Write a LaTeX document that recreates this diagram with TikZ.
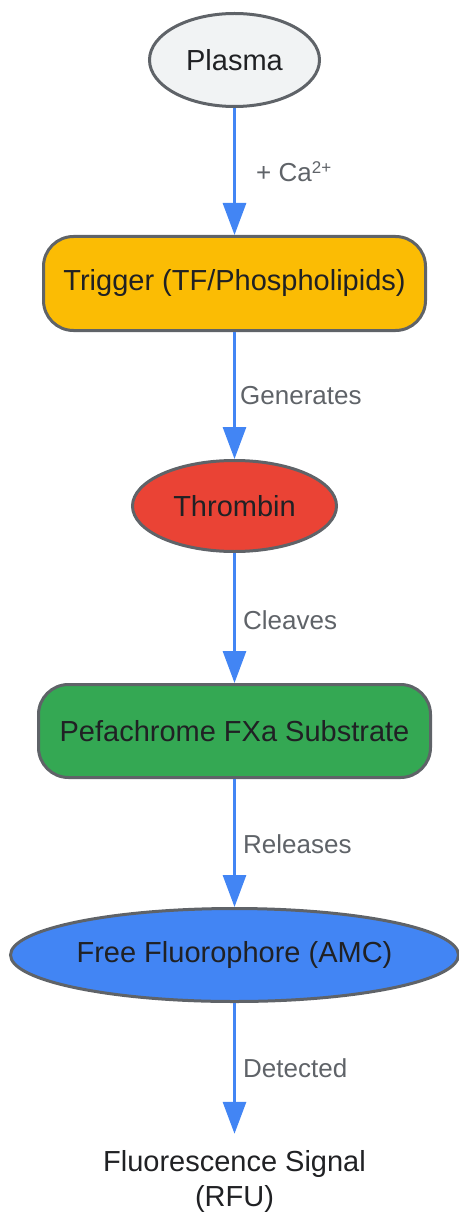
\documentclass[tikz,border=0pt]{standalone}
\usepackage{fontspec}
\setmainfont{Liberation Sans}
\usetikzlibrary{arrows.meta,shapes.geometric}
\definecolor{bordergray}{HTML}{5F6368}
\definecolor{txtdark}{HTML}{202124}
\definecolor{lblgray}{HTML}{5F6368}
\definecolor{plasmafill}{HTML}{F1F3F4}
\definecolor{gyellow}{HTML}{FBBC04}
\definecolor{gred}{HTML}{EA4335}
\definecolor{ggreen}{HTML}{34A853}
\definecolor{gblue}{HTML}{4285F4}
\tikzset{
  base/.style={draw=bordergray, line width=3pt, text=txtdark, inner sep=0pt,
    font=\fontsize{29}{35}\selectfont},
  oval/.style={base, ellipse},
  rbox/.style={base, rectangle, rounded corners=30pt},
  conn/.style={draw=gblue, line width=3pt, -{Triangle[width=23pt,length=32pt]}},
  lbl/.style={text=lblgray, anchor=west, inner sep=0pt, font=\fontsize{26}{31}\selectfont}
}
\begin{document}
\begin{tikzpicture}[x=1pt,y=-1pt]
\useasboundingbox (0,0) rectangle (458,1214);
\node[oval, fill=plasmafill, minimum width=170pt, minimum height=93pt] (plasma) at (234.5,60) {Plasma};
\node[rbox, fill=gyellow, minimum width=382pt, minimum height=94pt] (trigger) at (234.5,283.5) {Trigger (TF/Phospholipids)};
\node[oval, fill=gred, minimum width=204pt, minimum height=91pt] (thrombin) at (234.5,506) {Thrombin};
\node[rbox, fill=ggreen, minimum width=392pt, minimum height=93pt] (pefa) at (234.5,731) {Pefachrome FXa Substrate};
\node[oval, fill=gblue, minimum width=448pt, minimum height=93pt] (amc) at (234.5,955) {Free Fluorophore (AMC)};
\node[text=txtdark, align=center, inner xsep=0pt, inner ysep=16pt, font=\fontsize{29}{35}\selectfont] (sig) at (234.5,1181) {Fluorescence Signal\\(RFU)};

\draw[conn] (plasma) -- (trigger);
\draw[conn] (trigger) -- (thrombin);
\draw[conn] (thrombin) -- (pefa);
\draw[conn] (pefa) -- (amc);
\draw[conn] (amc) -- (sig.north);

\node[lbl] (l1) at (256,172) {+ Ca\raisebox{0.32em}{\fontsize{17}{17}\selectfont 2+}};
\node[lbl] (l2) at (240,396) {Generates};
\node[lbl] (l3) at (243,620) {Cleaves};
\node[lbl] (l4) at (243,844) {Releases};
\node[lbl] (l5) at (243,1068) {Detected};
\end{tikzpicture}
\end{document}
